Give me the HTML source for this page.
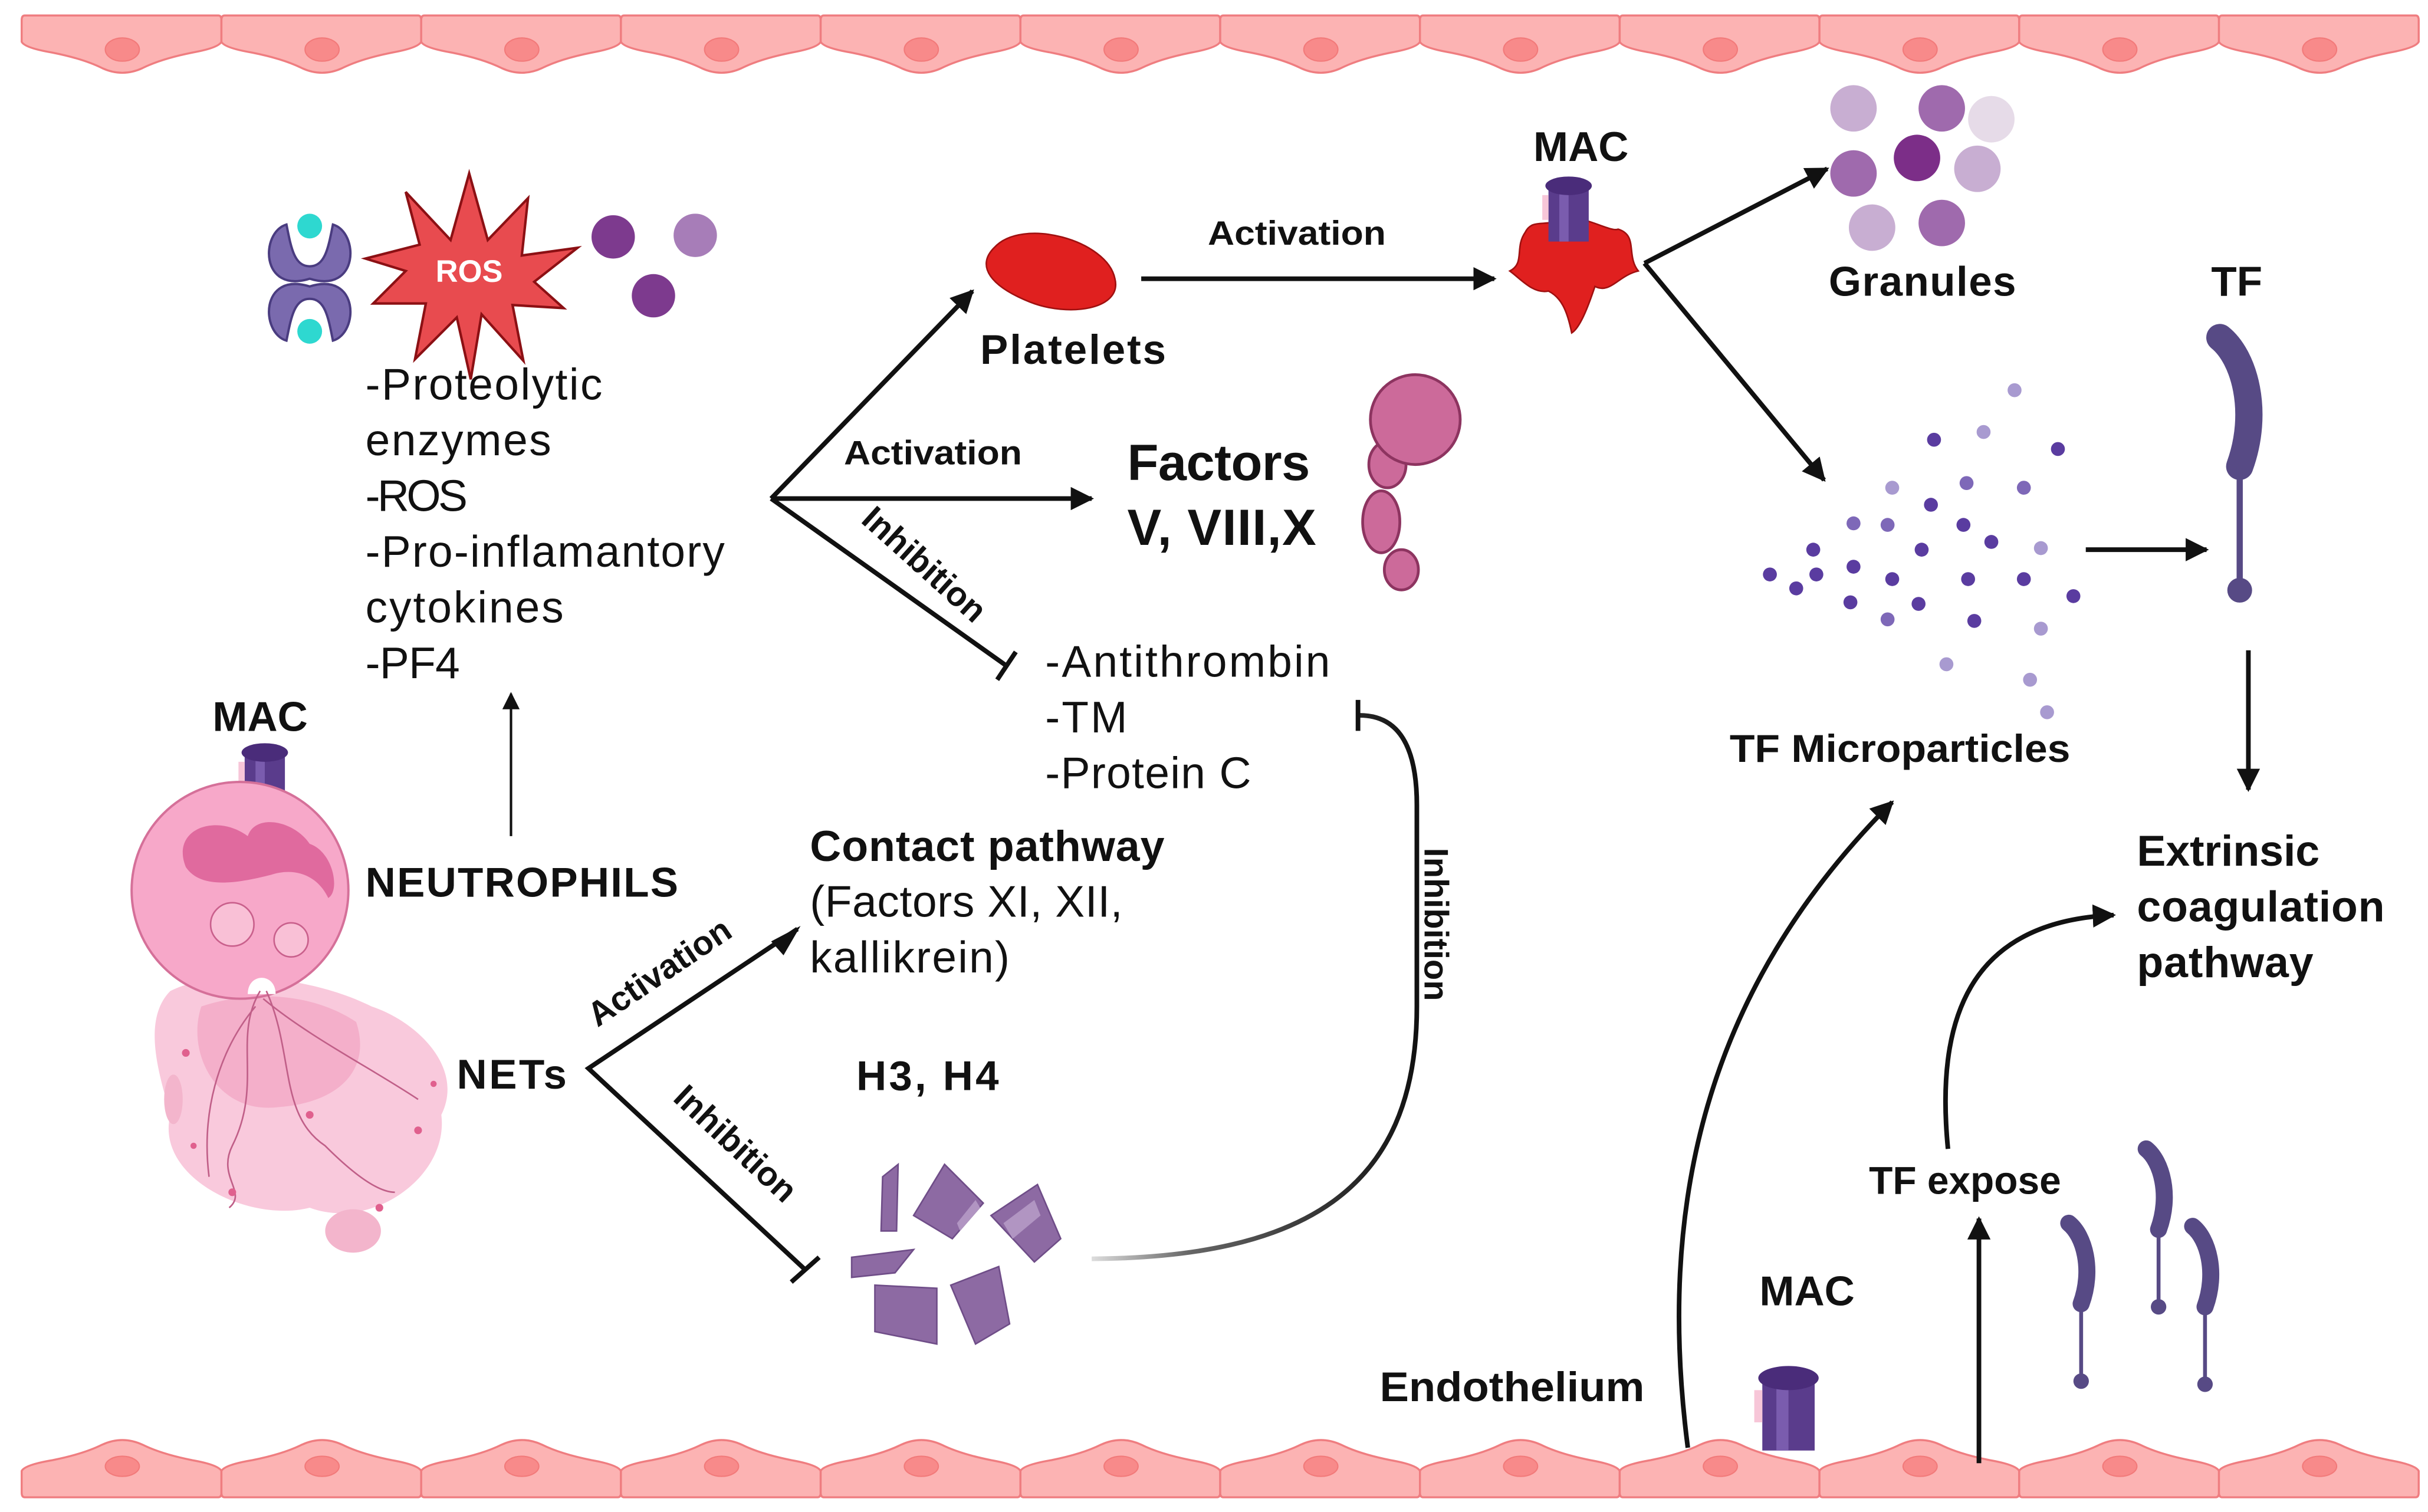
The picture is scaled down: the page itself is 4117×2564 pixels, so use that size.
<!DOCTYPE html>
<html><head><meta charset="utf-8"><style>
html,body{margin:0;padding:0;background:#fff;}
svg{display:block;}
text{font-family:"Liberation Sans",sans-serif;fill:#111;}
.b{font-weight:bold;}
</style></head><body>
<svg width="4117" height="2564" viewBox="0 0 1568 976.5" preserveAspectRatio="none" xmlns="http://www.w3.org/2000/svg">
<defs>
<marker id="ah" viewBox="0 0 10 10" refX="9" refY="5" markerWidth="5" markerHeight="5" orient="auto" markerUnits="strokeWidth"><path d="M0,0 L10,5 L0,10 z" fill="#111"/></marker>
<marker id="ah2" viewBox="0 0 10 10" refX="9" refY="5" markerWidth="7" markerHeight="7" orient="auto" markerUnits="strokeWidth"><path d="M0,0 L10,5 L0,10 z" fill="#111"/></marker>
<g id="tc">
<path d="M2,10 H127 Q129,10 129,13 V27 Q127,31 110,34 Q90,38 78,44 Q65,50 52,44 Q40,38 20,34 Q2,31 0,27 V13 Q0,10 2,10 Z" fill="#fcb3b3" stroke="#ef7d80" stroke-width="1.3"/>
<ellipse cx="65" cy="32" rx="11" ry="7.5" fill="#f88a8a" stroke="#f27a7a" stroke-width="0.8"/>
</g>
<g id="bc">
<path d="M2,967 H127 Q129,967 129,964 V950 Q127,946 110,943 Q90,939 78,933 Q65,927 52,933 Q40,939 20,943 Q2,946 0,950 V964 Q0,967 2,967 Z" fill="#fcb3b3" stroke="#ef7d80" stroke-width="1.3"/>
<ellipse cx="65" cy="947" rx="11" ry="6.5" fill="#f88a8a" stroke="#f27a7a" stroke-width="0.8"/>
</g>
<g id="mac">
<rect x="-13" y="0" width="26" height="36" fill="#5a3c8c"/>
<rect x="-6" y="0" width="6" height="36" fill="#7a5cae"/>
<ellipse cx="0" cy="0" rx="15" ry="6" fill="#4a2c7a"/>
<rect x="-17" y="6" width="4" height="16" fill="#f7c6d8"/>
</g>
<g id="tfm">
<path d="M-4,0 C6,8 12,30 4,52" stroke="#574a85" stroke-width="11" fill="none" stroke-linecap="round"/>
<line x1="4" y1="52" x2="4" y2="100" stroke="#574a85" stroke-width="2.5"/>
<circle cx="4" cy="102" r="5" fill="#574a85"/>
</g>
</defs>

<use href="#tc" x="14"/><use href="#tc" x="143"/><use href="#tc" x="272"/><use href="#tc" x="401"/><use href="#tc" x="530"/><use href="#tc" x="659"/><use href="#tc" x="788"/><use href="#tc" x="917"/><use href="#tc" x="1046"/><use href="#tc" x="1175"/><use href="#tc" x="1304"/><use href="#tc" x="1433"/>
<use href="#bc" x="14"/><use href="#bc" x="143"/><use href="#bc" x="272"/><use href="#bc" x="401"/><use href="#bc" x="530"/><use href="#bc" x="659"/><use href="#bc" x="788"/><use href="#bc" x="917"/><use href="#bc" x="1046"/><use href="#bc" x="1175"/><use href="#bc" x="1304"/><use href="#bc" x="1433"/>

<g fill="#7a6aae" stroke="#4a3c80" stroke-width="1.5">
<path d="M185,145 C168,150 168,190 200,180 C232,190 232,150 215,145 C212,160 210,172 200,172 C190,172 188,160 185,145Z"/>
<path d="M185,220 C168,215 168,175 200,185 C232,175 232,215 215,220 C212,205 210,193 200,193 C190,193 188,205 185,220Z"/>
</g>
<ellipse cx="200" cy="146" rx="8" ry="8" fill="#2ed8d0"/>
<ellipse cx="200" cy="214" rx="8" ry="8" fill="#2ed8d0"/>

<polygon points="303,112 315,155 341,128 337,165 373,160 345,182 364,199 331,197 338,233 311,203 304,245 295,205 268,232 275,196 241,196 262,175 236,167 271,158 262,124 291,155" fill="#e84b4f" stroke="#8c1014" stroke-width="1.6"/>
<text x="303" y="182" class="b" font-size="20" text-anchor="middle" style="fill:#fff">ROS</text>
<circle cx="396" cy="153" r="14" fill="#7d3a8e"/><circle cx="449" cy="152" r="14" fill="#a77db8"/><circle cx="422" cy="191" r="14" fill="#7d3a8e"/>

<g font-size="28.5" lengthAdjust="spacingAndGlyphs">
<text x="236" y="258" textLength="153">-Proteolytic</text>
<text x="236" y="294" textLength="120">enzymes</text>
<text x="236" y="330" textLength="66">-ROS</text>
<text x="236" y="366" textLength="232">-Pro-inflamantory</text>
<text x="236" y="402" textLength="128">cytokines</text>
<text x="236" y="438" textLength="61">-PF4</text>
</g>
<line x1="330" y1="540" x2="330" y2="448" stroke="#111" stroke-width="1.6" marker-end="url(#ah2)"/>

<text x="168" y="472" class="b" font-size="27" text-anchor="middle">MAC</text>
<use href="#mac" x="171" y="486"/>
<path d="M110,640 C90,660 105,700 110,720 C100,760 160,790 200,780 C240,795 290,760 285,720 C300,690 270,660 240,650 C200,630 140,625 110,640Z" fill="#f9c9dc"/>
<path d="M130,650 C120,680 140,720 180,715 C220,712 240,690 230,660 C200,640 160,640 130,650Z" fill="#f3a9c6" opacity="0.8"/>
<ellipse cx="112" cy="710" rx="6" ry="16" fill="#f3b5cc"/>
<ellipse cx="228" cy="795" rx="18" ry="14" fill="#f3b5cc"/>
<circle cx="155" cy="575" r="70" fill="#f7a8c9" stroke="#d57099" stroke-width="1.5"/>
<path d="M120,560 C110,535 140,525 160,540 C165,525 190,530 200,545 C215,550 220,575 212,580 C205,565 190,560 175,565 C155,570 130,575 120,560Z" fill="#e06a9e"/>
<circle cx="150" cy="597" r="14" fill="#f9c0d6" stroke="#c9608c"/>
<circle cx="188" cy="607" r="11" fill="#f9c0d6" stroke="#c9608c"/>
<path d="M160,642 C160,628 178,628 178,642 Z" fill="#fff"/>
<g fill="none" stroke="#c05f88" stroke-width="1">
<path d="M168,640 C150,670 170,700 150,740 C140,760 160,770 148,780"/>
<path d="M172,640 C190,680 180,720 210,740 C230,760 245,770 255,770"/>
<path d="M170,645 C200,670 240,690 270,710"/>
<path d="M165,650 C140,680 130,720 135,760"/>
</g>
<g fill="#e0608e"><circle cx="120" cy="680" r="2.5"/><circle cx="270" cy="730" r="2.5"/><circle cx="150" cy="770" r="2.5"/><circle cx="245" cy="780" r="2.5"/><circle cx="280" cy="700" r="2"/><circle cx="200" cy="720" r="2.5"/><circle cx="125" cy="740" r="2"/></g>

<g lengthAdjust="spacingAndGlyphs">
<text x="236" y="579" class="b" font-size="27" textLength="202">NEUTROPHILS</text>
<text x="295" y="703" class="b" font-size="27" textLength="71">NETs</text>
</g>

<polyline points="515,600 380,690 520,820" fill="none" stroke="#111" stroke-width="3"/>
<path d="M498,608 L517,598 L506,617 Z" fill="#111"/>
<line x1="512" y1="811" x2="528" y2="829" stroke="#111" stroke-width="3" transform="rotate(-90 520 820)"/>
<text class="b" font-size="22" transform="translate(430,634) rotate(-34)" text-anchor="middle">Activation</text>
<text class="b" font-size="22" transform="translate(470,744) rotate(43)" text-anchor="middle">Inhibition</text>

<g lengthAdjust="spacingAndGlyphs">
<text x="523" y="556" class="b" font-size="28" textLength="229">Contact pathway</text>
<text x="523" y="592" font-size="28.5" textLength="202">(Factors XI, XII,</text>
<text x="523" y="628" font-size="28.5" textLength="129">kallikrein)</text>
<text x="553" y="704" class="b" font-size="27" textLength="92">H3, H4</text>
</g>

<g fill="#8d6aa3" stroke="#6f4d88" stroke-width="1">
<polygon points="570,760 580,752 579,795 569,795"/>
<polygon points="590,785 610,752 635,777 615,800"/>
<polygon points="640,785 670,765 685,800 668,815"/>
<polygon points="550,812 590,807 578,822 550,825"/>
<polygon points="565,830 605,832 605,868 565,860"/>
<polygon points="614,830 645,818 652,855 630,868"/>
</g>
<g fill="#b195c2"><polygon points="618,790 630,775 633,780 620,795"/><polygon points="648,790 668,775 672,785 654,800"/></g>

<defs><linearGradient id="gg" x1="0" y1="0" x2="1" y2="0"><stop offset="0" stop-color="#ddd"/><stop offset="0.3" stop-color="#666"/><stop offset="1" stop-color="#111"/></linearGradient></defs>
<path d="M705,813 C840,812 915,770 915,650 L915,520 C915,485 905,462 878,462" fill="none" stroke="url(#gg)" stroke-width="3"/>
<line x1="877" y1="452" x2="877" y2="472" stroke="#111" stroke-width="3"/>
<text class="b" font-size="22" transform="translate(920,597) rotate(90)" text-anchor="middle">Inhibition</text>

<line x1="498" y1="322" x2="628" y2="188" stroke="#111" stroke-width="3" marker-end="url(#ah)"/>
<line x1="498" y1="322" x2="705" y2="322" stroke="#111" stroke-width="3" marker-end="url(#ah)"/>
<line x1="498" y1="322" x2="650" y2="430" stroke="#111" stroke-width="3"/>
<line x1="644" y1="439" x2="656" y2="421" stroke="#111" stroke-width="3"/>
<text x="545" y="300" class="b" font-size="22" textLength="115" lengthAdjust="spacingAndGlyphs">Activation</text>
<text class="b" font-size="22" transform="translate(592,370) rotate(42)" text-anchor="middle">Inhibition</text>

<path d="M642,160 C660,140 715,155 720,180 C725,200 690,205 665,195 C640,185 630,172 642,160Z" fill="#e0201f" stroke="#a01010" stroke-width="1"/>
<g lengthAdjust="spacingAndGlyphs">
<text x="633" y="235" class="b" font-size="27" textLength="120">Platelets</text>
<text x="728" y="310" class="b" font-size="33" textLength="118">Factors</text>
<text x="728" y="352" class="b" font-size="33" textLength="122">V, VIII,X</text>
</g>
<g fill="#cc6a9a" stroke="#8d3460" stroke-width="1.8">
<ellipse cx="905" cy="368" rx="11" ry="13"/>
<ellipse cx="892" cy="337" rx="12" ry="20"/>
<ellipse cx="896" cy="300" rx="12" ry="15"/>
<circle cx="914" cy="271" r="29"/>
</g>

<g font-size="28.5" lengthAdjust="spacingAndGlyphs">
<text x="675" y="437" textLength="184">-Antithrombin</text>
<text x="675" y="473" textLength="53">-TM</text>
<text x="675" y="509" textLength="133">-Protein C</text>
</g>

<line x1="737" y1="180" x2="965" y2="180" stroke="#111" stroke-width="3" marker-end="url(#ah)"/>
<text x="780" y="158" class="b" font-size="22" textLength="115" lengthAdjust="spacingAndGlyphs">Activation</text>
<text x="1021" y="104" class="b" font-size="27" text-anchor="middle">MAC</text>
<path d="M985,150 C990,140 1000,148 1010,140 C1025,140 1040,150 1045,148 C1058,152 1050,165 1058,175 C1045,178 1040,190 1030,185 C1025,200 1020,212 1015,215 C1012,200 1008,192 1000,188 C990,190 982,180 975,175 C985,170 978,160 985,150Z" fill="#e0201f" stroke="#a01010"/>
<use href="#mac" x="1013" y="120"/>

<line x1="1062" y1="170" x2="1180" y2="109" stroke="#111" stroke-width="3" marker-end="url(#ah)"/>
<line x1="1062" y1="170" x2="1178" y2="310" stroke="#111" stroke-width="3" marker-end="url(#ah)"/>

<g><circle cx="1197" cy="70" r="15" fill="#c8aed2"/><circle cx="1254" cy="70" r="15" fill="#9f6aad"/><circle cx="1286" cy="77" r="15" fill="#e6dbe8"/><circle cx="1197" cy="112" r="15" fill="#9f6aad"/><circle cx="1238" cy="102" r="15" fill="#7c2e88"/><circle cx="1277" cy="109" r="15" fill="#c8aed2"/><circle cx="1209" cy="147" r="15" fill="#c8aed2"/><circle cx="1254" cy="144" r="15" fill="#9f6aad"/></g>
<g lengthAdjust="spacingAndGlyphs">
<text x="1181" y="191" class="b" font-size="27" textLength="121">Granules</text>
<text x="1428" y="191" class="b" font-size="27">TF</text>
</g>
<use href="#tfm" x="1440" y="218" transform="translate(1440,218) scale(1.6) translate(-1440,-218)"/>

<g fill="#5a3ca0">
<circle cx="1249" cy="284" r="4.5"/><circle cx="1329" cy="290" r="4.5"/><circle cx="1247" cy="326" r="4.5"/><circle cx="1268" cy="339" r="4.5"/><circle cx="1286" cy="350" r="4.5"/><circle cx="1171" cy="355" r="4.5"/><circle cx="1241" cy="355" r="4.5"/><circle cx="1143" cy="371" r="4.5"/><circle cx="1173" cy="371" r="4.5"/><circle cx="1197" cy="366" r="4.5"/><circle cx="1160" cy="380" r="4.5"/><circle cx="1222" cy="374" r="4.5"/><circle cx="1271" cy="374" r="4.5"/><circle cx="1307" cy="374" r="4.5"/><circle cx="1339" cy="385" r="4.5"/><circle cx="1195" cy="389" r="4.5"/><circle cx="1239" cy="390" r="4.5"/><circle cx="1275" cy="401" r="4.5"/>
</g>
<g fill="#7e68b8"><circle cx="1270" cy="312" r="4.5"/><circle cx="1307" cy="315" r="4.5"/><circle cx="1197" cy="338" r="4.5"/><circle cx="1219" cy="339" r="4.5"/><circle cx="1219" cy="400" r="4.5"/></g>
<g fill="#a89ad0"><circle cx="1301" cy="252" r="4.5"/><circle cx="1281" cy="279" r="4.5"/><circle cx="1222" cy="315" r="4.5"/><circle cx="1318" cy="354" r="4.5"/><circle cx="1318" cy="406" r="4.5"/><circle cx="1257" cy="429" r="4.5"/><circle cx="1311" cy="439" r="4.5"/><circle cx="1322" cy="460" r="4.5"/></g>
<text x="1117" y="492" class="b" font-size="25" textLength="220" lengthAdjust="spacingAndGlyphs">TF Microparticles</text>

<line x1="1347" y1="355" x2="1425" y2="355" stroke="#111" stroke-width="3" marker-end="url(#ah)"/>
<line x1="1452" y1="420" x2="1452" y2="510" stroke="#111" stroke-width="3" marker-end="url(#ah)"/>
<g lengthAdjust="spacingAndGlyphs">
<text x="1380" y="559" class="b" font-size="28" textLength="118">Extrinsic</text>
<text x="1380" y="595" class="b" font-size="28" textLength="160">coagulation</text>
<text x="1380" y="631" class="b" font-size="28" textLength="114">pathway</text>
</g>

<path d="M1258,742 C1250,660 1270,595 1365,591" fill="none" stroke="#111" stroke-width="3" marker-end="url(#ah)"/>
<text x="1207" y="771" class="b" font-size="25" textLength="124" lengthAdjust="spacingAndGlyphs">TF expose</text>
<line x1="1278" y1="945" x2="1278" y2="787" stroke="#111" stroke-width="3" marker-end="url(#ah)"/>
<use href="#tfm" x="1390" y="742"/>
<use href="#tfm" x="1340" y="790"/>
<use href="#tfm" x="1420" y="792"/>
<text x="1167" y="843" class="b" font-size="27" text-anchor="middle">MAC</text>
<use href="#mac" x="1155" y="890" transform="translate(1155,890) scale(1.3) translate(-1155,-890)"/>
<text x="891" y="905" class="b" font-size="27" textLength="171" lengthAdjust="spacingAndGlyphs">Endothelium</text>
<path d="M1090,935 C1070,780 1100,640 1222,518" fill="none" stroke="#111" stroke-width="3" marker-end="url(#ah)"/>
</svg>
</body></html>
